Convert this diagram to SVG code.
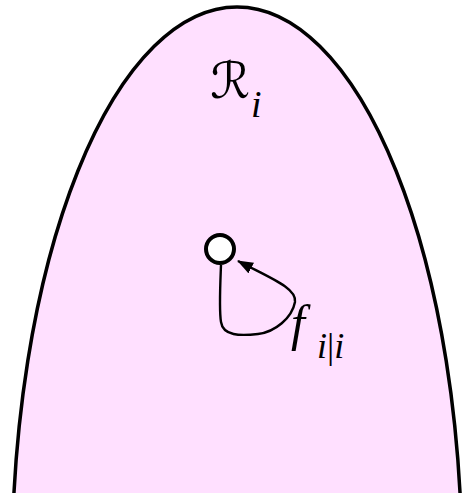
<svg xmlns="http://www.w3.org/2000/svg" width="462" height="493" viewBox="0 0 462 493">
  <style>
    .region { fill: #ffe0ff; stroke: #000; stroke-width: 3.5; }
    .node { fill: #fff; stroke: #000; stroke-width: 4; }
    .edge { fill: none; stroke: #000; stroke-width: 2.4; }
    .math { font-family: 'Liberation Serif', 'DejaVu Serif', serif; font-style: italic; fill: #000; }
    .script { font-family: 'DejaVu Serif', 'DejaVu Sans', serif; font-style: italic; fill: #000; }
  </style>
  <defs>
    <marker id="arrow" viewBox="0 0 16 12" refX="15" refY="6" markerWidth="16" markerHeight="12" markerUnits="userSpaceOnUse" orient="auto">
      <path d="M0,0 L16,6 L0,12 z" fill="#000"/>
    </marker>
  </defs>
  <g id="region-Ri">
    <ellipse class="region" cx="237" cy="567" rx="225" ry="560"/>
    <text class="script" x="210" y="98" font-size="50">ℛ</text>
    <text class="math" x="251" y="117" font-size="38">i</text>
  </g>
  <g id="connectors">
    <path class="edge" d="M221,265 C220,290 219,310 221,322 C223,336 240,336 258,334 C275,332 292,318 295,302 C297,288 270,278 238,261" marker-end="url(#arrow)"/>
    <g id="label-fii">
      <text class="math" x="291" y="340" font-size="50">f</text>
      <text class="math" x="317" y="358" font-size="36">i<tspan font-style="normal">|</tspan>i</text>
    </g>
  </g>
  <g id="node-i">
    <circle class="node" cx="220" cy="249" r="14"/>
  </g>
</svg>
